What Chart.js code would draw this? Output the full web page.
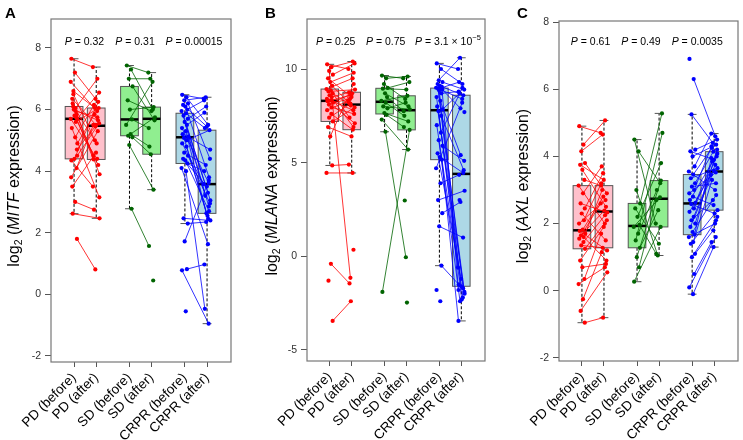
<!DOCTYPE html>
<html>
<head>
<meta charset="utf-8">
<script src="https://cdn.jsdelivr.net/npm/chart.js@4.4.1/dist/chart.umd.min.js"></script>
<style>
body { margin: 0; background: #fff; }
#wrap { position: relative; width: 743px; height: 440px; }
canvas { position: absolute; top: 0; }
</style>
</head>
<body>
<div id="wrap">
<canvas id="chartA" width="245" height="440" style="left:0px"></canvas>
<canvas id="chartB" width="245" height="440" style="left:245px"></canvas>
<canvas id="chartC" width="253" height="440" style="left:490px"></canvas>
</div>
<script>
// ===============================
// DATA
// ===============================
const groupNames = ['PD', 'SD', 'CRPR'];
const tickLabels = ['PD (before)', 'PD (after)', 'SD (before)', 'SD (after)', 'CRPR (before)', 'CRPR (after)'];

// A - MITF (pairs by index, null = no sample)
const mitfPdBefore = [7.65, 6.05, 6.6, 5.7, 6.35, 4.4, 5.85, 6.9, 5.1, 6.2, 4.7, 6.0, 5.75, 3.8, 7.2, 5.4, 4.9, 6.1, 5.6, 4.35, 5.95, 6.5, 4.5, 3.5, 5.8, 4.1, 5.7, 3.0, 2.62, 1.8];
const mitfPdAfter  = [7.38, 7.0, 6.05, 6.55, 5.5, 6.25, 4.5, 5.95, 6.15, 3.9, 5.45, 5.65, 4.38, 5.3, 6.35, 3.15, 5.85, 4.9, 6.05, 3.5, 5.75, 5.0, 5.55, 4.6, 4.2, 5.5, 4.4, 2.75, 2.47, 0.81];
const mitfSdBefore = [7.43, 7.3, 7.0, 6.75, 6.3, 6.0, 5.68, 5.5, 5.2, 5.15, 5.1, 4.85, 2.78, null];
const mitfSdAfter  = [7.2, 6.0, 7.0, 5.65, 5.95, 6.08, 5.4, 6.9, 4.8, 5.75, 4.55, 3.4, 1.57, 0.45];
const mitfCrBefore = [6.48, 6.4, 6.3, 6.2, 6.15, 6.1, 6.0, 5.95, 5.88, 5.8, 5.7, 5.6, 5.5, 5.4, 5.3, 5.2, 5.12, 5.08, 5.0, 4.9, 4.8, 4.6, 4.5, 4.4, 4.35, 4.25, 4.1, 4.0, 2.47, 2.3, 1.72, 0.82, 0.78, -0.55];
const mitfCrAfter  = [6.35, 5.5, 6.4, 4.4, 5.45, 3.8, 6.3, 3.3, 5.4, 3.05, 6.1, 2.85, 5.9, 3.62, 2.63, 4.7, 3.2, 2.55, 5.33, 3.58, 2.45, 4.2, 2.95, 3.5, 2.7, 4.0, 1.63, -0.47, 2.4, 2.35, 3.7, 0.97, -0.95, null];
const mitfPValues = ['0.32', '0.31', '0.00015'];

// B - MLANA
const mlanaPdBefore = [10.25, 10.1, 9.9, 9.7, 9.5, 9.3, 9.1, 8.93, 8.85, 8.8, 8.7, 8.6, 8.5, 8.4, 8.32, 8.28, 8.2, 8.1, 7.95, 7.8, 7.6, 7.4, 7.2, 6.9, 6.4, 4.85, 4.45, -0.4, -1.3, -3.45, null];
const mlanaPdAfter  = [10.0, 10.4, -1.15, 10.3, 8.5, 9.8, 8.2, 9.5, 7.4, 8.9, 8.05, 6.9, 8.76, 7.8, 8.6, 7.1, 8.4, 8.7, 7.6, 8.3, 6.76, 8.15, 7.95, 6.4, 9.2, 4.9, 4.45, -1.45, null, -2.4, 0.35];
const mlanaSdBefore = [9.65, 9.5, 9.2, 8.99, 8.95, 8.7, 8.5, 8.3, 8.2, 8.0, 7.9, 7.65, 7.55, 7.3, 6.65, -1.9, null, null];
const mlanaSdAfter  = [9.5, 9.6, 8.4, 9.3, 8.9, 8.0, 7.75, 8.57, 7.5, 7.85, 8.2, 7.2, 6.9, 5.7, -0.05, 6.75, 2.98, -2.47];
const mlanaCrBefore = [10.3, 10.0, 9.4, 9.3, 9.2, 9.1, 9.05, 9.0, 8.98, 8.95, 8.9, 8.85, 8.7, 8.5, 8.3, 8.0, 7.85, 7.75, 7.5, 7.0, 6.6, 6.2, 5.9, 5.5, 5.3, 5.16, 4.7, 3.9, 3.0, 2.3, 1.6, -0.5, -1.8, -2.4, null, null];
const mlanaCrAfter  = [10.0, 9.2, 10.6, 8.9, -1.6, 8.6, -1.8, 8.4, 9.3, -2.0, 7.9, -1.7, 8.8, -2.2, 5.4, -1.9, 8.7, -2.3, 4.6, -0.6, 9.0, -2.4, 5.1, -1.2, 4.45, -3.45, 8.2, 4.35, 3.5, 2.9, 1.0, -1.5, null, null, 7.7, 3.0];
const mlanaPValues = ['0.25', '0.75', '3.1 × 10^−5'];

// C - AXL
const axlPdBefore = [4.9, 4.35, 4.15, 3.8, 3.75, 3.6, 3.3, 3.13, 2.9, 2.6, 2.45, 2.3, 2.1, 2.0, 1.82, 1.78, 1.7, 1.65, 1.6, 1.55, 1.45, 1.35, 1.25, 0.9, 0.7, 0.35, 0.2, -0.25, -0.6, -0.95];
const axlPdAfter  = [4.7, 5.07, 4.65, 2.9, 3.3, 2.5, 3.13, 2.0, 3.7, 2.33, 3.5, 1.5, 3.2, 2.7, 2.8, 1.2, 3.0, 2.39, 0.9, 2.6, 2.25, 1.28, 2.1, 1.9, 0.8, 1.7, 0.7, 1.15, 0.55, -0.8];
const axlSdBefore = [4.5, 4.15, 3.0, 2.6, 2.45, 2.2, 1.96, 1.9, 1.7, 1.5, 1.28, 1.0, 0.7, 0.27];
const axlSdAfter  = [2.0, 3.2, 1.05, 5.28, 1.4, 3.8, 1.1, 2.78, 3.0, 4.7, 2.4, 3.28, 2.7, 1.9];
const axlCrBefore = [6.9, 6.3, 5.25, 4.2, 4.15, 4.0, 3.7, 3.55, 3.46, 3.35, 3.2, 3.1, 3.0, 2.9, 2.8, 2.7, 2.62, 2.58, 2.45, 2.35, 2.2, 2.1, 2.0, 1.9, 1.75, 1.67, 1.6, 1.45, 1.4, 1.1, 1.0, 0.5, 0.1, -0.1, null];
const axlCrAfter  = [null, 4.6, 4.4, 4.5, 3.9, 4.35, 4.68, 3.0, 4.25, 3.65, 4.14, 3.2, 4.3, 3.52, 2.55, 4.08, 3.85, 2.3, 4.0, 3.45, 3.75, 2.7, 4.2, 3.58, 2.85, 3.95, 2.0, 3.3, 2.4, 1.8, 2.1, 1.45, 1.6, 1.3, 2.2];
const axlPValues = ['0.61', '0.49', '0.0035'];

// ===============================
// STYLE / LAYOUT
// ===============================
const tickPos = [1, 2, 3.5, 4.5, 6, 7];
const lineColors = ['#ff0000', '#006400', '#0000ff'];
const boxFills = ['#ffc0cb', '#90ee90', '#add8e6'];
const JIT = [-0.12, 0.07, -0.03, 0.14, -0.08, 0.02, 0.11, -0.15, 0.05, -0.06, 0.13, -0.01, 0.09, -0.13, 0.04, -0.1, 0.15, -0.04, 0.08];
const FONT = '"Liberation Sans", Arial, Helvetica, sans-serif';
const BOX_W = 0.8;

// R style five number summary + whiskers
function boxStats(arr) {
    const x = arr.filter(v => v !== null).sort((a, b) => a - b);
    const n = x.length;
    const n4 = Math.floor((n + 3) / 2) / 2;
    const d = [1, n4, (n + 1) / 2, n + 1 - n4, n];
    const f = d.map(k => 0.5 * (x[Math.floor(k) - 1] + x[Math.ceil(k) - 1]));
    const iqr = f[3] - f[1];
    const lo = x.find(v => v >= f[1] - 1.5 * iqr);
    const hi = x.filter(v => v <= f[3] + 1.5 * iqr).pop();
    return { q1: f[1], med: f[2], q3: f[3], lo: lo, hi: hi };
}

function pairPoints(before, after, g) {
    const pts = [];
    const xb = tickPos[g * 2], xa = tickPos[g * 2 + 1];
    for (let i = 0; i < before.length; i++) {
        const jb = JIT[i % JIT.length], ja = JIT[(i + 7) % JIT.length];
        if (before[i] !== null) pts.push({ x: xb + jb, y: before[i] });
        if (after[i] !== null) pts.push({ x: xa + ja, y: after[i] });
        pts.push({ x: xa, y: null });
    }
    return pts;
}

// draw text made of runs with different fonts
function drawRuns(ctx, runs, cx, cy) {
    let total = 0;
    runs.forEach(r => { ctx.font = r.font; r.w = ctx.measureText(r.t).width; total += r.w; });
    let x = cx - total / 2;
    runs.forEach(r => {
        ctx.font = r.font;
        ctx.fillText(r.t, x, cy + (r.dy || 0));
        x += r.w;
    });
}

function makePanel(cfg) {
    const canvas = document.getElementById(cfg.id);
    const ctx = canvas.getContext('2d');

    const datasets = cfg.series.map((s, g) => ({
        data: pairPoints(s[0], s[1], g),
        showLine: true,
        borderColor: lineColors[g],
        borderWidth: 0.8,
        pointRadius: 2.1,
        pointHoverRadius: 2.1,
        pointBorderWidth: 0,
        pointBackgroundColor: lineColors[g]
    }));

    const boxPlugin = {
        id: 'boxes',
        beforeDatasetsDraw(chart) {
            const c = chart.ctx, xs = chart.scales.x, ys = chart.scales.y;
            cfg.series.forEach((s, g) => {
                [0, 1].forEach(k => {
                    const st = boxStats(s[k]);
                    const pos = tickPos[g * 2 + k];
                    const l = xs.getPixelForValue(pos - BOX_W / 2);
                    const r = xs.getPixelForValue(pos + BOX_W / 2);
                    const m = xs.getPixelForValue(pos);
                    const cw = (r - l) * 0.25;
                    c.save();
                    // whiskers
                    c.strokeStyle = '#000';
                    c.lineWidth = 1;
                    c.setLineDash([3, 2]);
                    c.beginPath();
                    c.moveTo(m, ys.getPixelForValue(st.q3));
                    c.lineTo(m, ys.getPixelForValue(st.hi));
                    c.moveTo(m, ys.getPixelForValue(st.q1));
                    c.lineTo(m, ys.getPixelForValue(st.lo));
                    c.stroke();
                    c.setLineDash([]);
                    c.strokeStyle = '#555';
                    c.beginPath();
                    c.moveTo(m - cw, ys.getPixelForValue(st.hi));
                    c.lineTo(m + cw, ys.getPixelForValue(st.hi));
                    c.moveTo(m - cw, ys.getPixelForValue(st.lo));
                    c.lineTo(m + cw, ys.getPixelForValue(st.lo));
                    c.stroke();
                    // box
                    const t = ys.getPixelForValue(st.q3), b = ys.getPixelForValue(st.q1);
                    c.fillStyle = boxFills[g];
                    c.fillRect(l, t, r - l, b - t);
                    c.strokeStyle = '#555';
                    c.lineWidth = 1;
                    c.strokeRect(l, t, r - l, b - t);
                    // median
                    c.strokeStyle = '#000';
                    c.lineWidth = 2.5;
                    c.beginPath();
                    c.moveTo(l, ys.getPixelForValue(st.med));
                    c.lineTo(r, ys.getPixelForValue(st.med));
                    c.stroke();
                    c.restore();
                });
            });
        },
        afterDraw(chart) {
            const c = chart.ctx, a = chart.chartArea, xs = chart.scales.x;
            c.save();
            // frame
            c.strokeStyle = '#777';
            c.lineWidth = 1.2;
            c.strokeRect(a.left, a.top, a.right - a.left, a.bottom - a.top);
            c.fillStyle = '#000';
            c.textBaseline = 'middle';
            // P values
            cfg.pValues.forEach((p, i) => {
                const parts = p.split('^');
                const runs = [
                    { t: 'P', font: 'italic 10.5px ' + FONT },
                    { t: ' = ' + parts[0], font: '10.5px ' + FONT }
                ];
                if (parts[1]) runs.push({ t: parts[1], font: '7.5px ' + FONT, dy: -4 });
                drawRuns(c, runs, xs.getPixelForValue(cfg.pX[i]), 42);
            });
            // panel letter
            c.textBaseline = 'alphabetic';
            c.font = 'bold 15px ' + FONT;
            c.fillText(cfg.letter, cfg.letterX, 18);
            // y title
            c.translate(cfg.titleX, cfg.titleY);
            c.rotate(-Math.PI / 2);
            drawRuns(c, [
                { t: 'log', font: '16px ' + FONT },
                { t: '2', font: '10.5px ' + FONT, dy: 3 },
                { t: ' (', font: '16px ' + FONT },
                { t: cfg.gene, font: 'italic 16px ' + FONT },
                { t: ' expression)', font: '16px ' + FONT }
            ], 0, 5);
            c.restore();
        }
    };

    return new Chart(ctx, {
        type: 'scatter',
        data: { datasets: datasets },
        options: {
            responsive: false,
            animation: false,
            events: [],
            layout: { padding: { top: cfg.padTop, right: cfg.padRight, left: 0, bottom: 0 } },
            plugins: { legend: { display: false }, tooltip: { enabled: false } },
            scales: {
                x: {
                    type: 'linear',
                    min: -0.04,
                    max: 8.08,
                    afterBuildTicks: s => { s.ticks = tickPos.map(v => ({ value: v })); },
                    afterFit: s => { s.height = cfg.xAxisH; },
                    ticks: {
                        autoSkip: false,
                        minRotation: 45,
                        maxRotation: 45,
                        padding: 3,
                        color: '#000',
                        font: { family: FONT, size: 13.5 },
                        callback: v => tickLabels[tickPos.indexOf(v)]
                    },
                    grid: { drawOnChartArea: false, drawTicks: true, tickLength: 5, color: '#555' },
                    border: { display: false }
                },
                y: {
                    type: 'linear',
                    min: cfg.yMin,
                    max: cfg.yMax,
                    afterBuildTicks: s => {
                        const t = [];
                        for (let v = Math.ceil(cfg.yMin / cfg.yStep) * cfg.yStep; v <= cfg.yMax; v += cfg.yStep) t.push({ value: v });
                        s.ticks = t;
                    },
                    afterFit: s => { s.width = cfg.yAxisW; },
                    ticks: { padding: 4, color: '#333', font: { family: FONT, size: 10.5 } },
                    grid: { drawOnChartArea: false, drawTicks: true, tickLength: 6, color: '#555' },
                    border: { display: false }
                }
            }
        },
        plugins: [boxPlugin]
    });
}

// ===============================
// PANELS
// ===============================
makePanel({
    id: 'chartA', letter: 'A', gene: 'MITF',
    series: [[mitfPdBefore, mitfPdAfter], [mitfSdBefore, mitfSdAfter], [mitfCrBefore, mitfCrAfter]],
    pValues: mitfPValues, pX: [1.47, 3.75, 6.41],
    yMin: -2.195, yMax: 8.94, yStep: 2,
    yAxisW: 51, padTop: 19, padRight: 14, xAxisH: 78,
    titleX: 14, titleY: 186, letterX: 5
});

makePanel({
    id: 'chartB', letter: 'B', gene: 'MLANA',
    series: [[mlanaPdBefore, mlanaPdAfter], [mlanaSdBefore, mlanaSdAfter], [mlanaCrBefore, mlanaCrAfter]],
    pValues: mlanaPValues, pX: [1.27, 3.55, 6.39],
    yMin: -5.59, yMax: 12.67, yStep: 5,
    yAxisW: 62, padTop: 19, padRight: 5, xAxisH: 79,
    titleX: 27, titleY: 186, letterX: 20
});

makePanel({
    id: 'chartC', letter: 'C', gene: 'AXL',
    series: [[axlPdBefore, axlPdAfter], [axlSdBefore, axlSdAfter], [axlCrBefore, axlCrAfter]],
    pValues: axlPValues, pX: [1.39, 3.68, 6.23],
    yMin: -2.09, yMax: 8.03, yStep: 2,
    yAxisW: 69, padTop: 21, padRight: 5, xAxisH: 79,
    titleX: 33, titleY: 186, letterX: 27
});
</script>
</body>
</html>
